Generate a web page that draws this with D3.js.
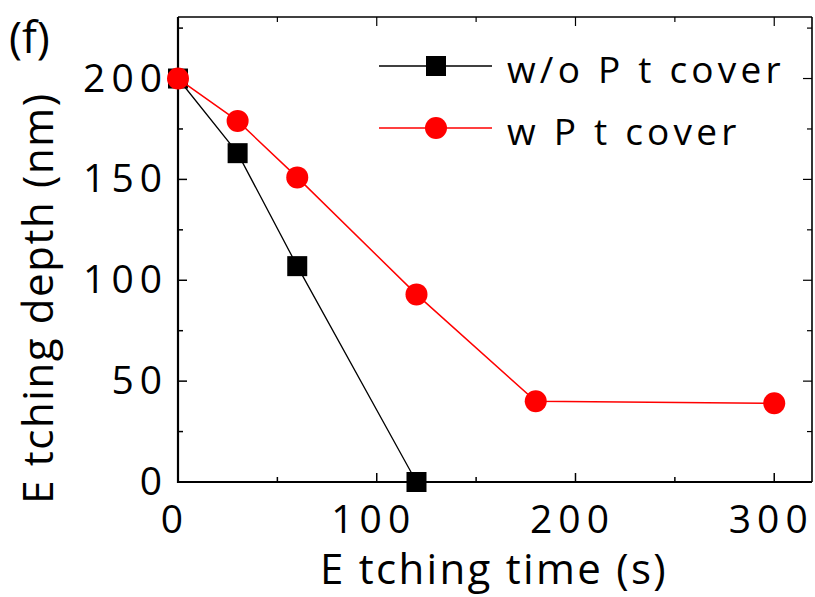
<!DOCTYPE html>
<html>
<head>
<meta charset="utf-8">
<script src="https://cdn.jsdelivr.net/npm/d3@7"></script>
<style>
  body { margin: 0; background: #fff; }
  text { font-family: "Open Sans", sans-serif; fill: #000; }
</style>
</head>
<body>
<div id="chart"></div>
<script>
// data
var series_names = ["w/o P t cover", "w P t cover"]
var times_wo = [0, 30, 60, 120]
var depth_wo = [200, 163, 107, 0]
var times_w = [0, 30, 60, 120, 180, 300]
var depth_w = [200, 179, 151, 93, 40, 39]
var x_ticks = [0, 100, 200, 300]
var y_ticks = [0, 50, 100, 150, 200]

var width = 815
var height = 597
var padding = { "left": 178, "right": 3, "top": 17, "bottom": 115 }

var svg = d3.select("#chart").append("svg")
    .attr("width", width)
    .attr("height", height)

var x_scale = d3.scaleLinear()
    .domain([0, 319])
    .range([padding.left, width - padding.right])
var y_scale = d3.scaleLinear()
    .domain([0, 230.5])
    .range([height - padding.bottom, padding.top])

var x0 = padding.left, x1 = width - padding.right
var y0 = height - padding.bottom, y1 = padding.top

// frame
svg.append("line").attr("x1", x0).attr("x2", x1).attr("y1", y0).attr("y2", y0)
    .attr("stroke", "#000").attr("stroke-width", 2.2)
svg.append("line").attr("x1", x0).attr("x2", x0).attr("y1", y0 + 1).attr("y2", y1)
    .attr("stroke", "#000").attr("stroke-width", 2.2)
svg.append("line").attr("x1", x0).attr("x2", x1).attr("y1", y1).attr("y2", y1)
    .attr("stroke", "#000").attr("stroke-width", 1.6)
svg.append("line").attr("x1", x1).attr("x2", x1).attr("y1", y0).attr("y2", y1)
    .attr("stroke", "#000").attr("stroke-width", 1.6)

// ticks (inside, mirrored)
var x_minor = d3.range(50, 319, 100)
var y_minor = d3.range(25, 231, 50)
function tick_x(vals, len) {
    svg.selectAll(null).data(vals).enter().append("line")
        .attr("x1", function (d) { return x_scale(d) }).attr("x2", function (d) { return x_scale(d) })
        .attr("y1", y0).attr("y2", y0 - len).attr("stroke", "#000").attr("stroke-width", 1.5)
    svg.selectAll(null).data(vals).enter().append("line")
        .attr("x1", function (d) { return x_scale(d) }).attr("x2", function (d) { return x_scale(d) })
        .attr("y1", y1).attr("y2", y1 + len).attr("stroke", "#000").attr("stroke-width", 1.2)
}
function tick_y(vals, len) {
    svg.selectAll(null).data(vals).enter().append("line")
        .attr("y1", function (d) { return y_scale(d) }).attr("y2", function (d) { return y_scale(d) })
        .attr("x1", x0).attr("x2", x0 + len).attr("stroke", "#000").attr("stroke-width", 1.5)
    svg.selectAll(null).data(vals).enter().append("line")
        .attr("y1", function (d) { return y_scale(d) }).attr("y2", function (d) { return y_scale(d) })
        .attr("x1", x1).attr("x2", x1 - len).attr("stroke", "#000").attr("stroke-width", 1.2)
}
tick_x(x_ticks.slice(1), 9)
tick_x(x_minor, 5)
tick_y(y_ticks.slice(1), 9)
tick_y(y_minor, 5)

// tick labels
svg.selectAll(".xlab").data(x_ticks).enter().append("text")
    .attr("x", function (d) { return x_scale(d) - 3 })
    .attr("y", y0 + 51)
    .attr("text-anchor", "middle")
    .attr("font-size", 39)
    .attr("letter-spacing", 6)
    .text(function (d) { return d })
svg.selectAll(".ylab").data(y_ticks).enter().append("text")
    .attr("x", x0 - 10)
    .attr("y", function (d) { return y_scale(d) + 13 })
    .attr("text-anchor", "end")
    .attr("font-size", 39)
    .attr("letter-spacing", 6)
    .text(function (d) { return d })

// axis titles
svg.append("text")
    .attr("x", 494).attr("y", 584)
    .attr("text-anchor", "middle")
    .attr("font-size", 42)
    .attr("letter-spacing", 2.3)
    .text("E tching time (s)")
svg.append("text")
    .attr("transform", "translate(53,298) rotate(-90)")
    .attr("text-anchor", "middle")
    .attr("font-size", 42)
    .attr("letter-spacing", 1.6)
    .text("E tching depth (nm)")
svg.append("text")
    .attr("x", 9).attr("y", 53)
    .attr("font-size", 44)
    .text("(f)")

// lines
var line = d3.line()
    .x(function (d) { return x_scale(d[0]) })
    .y(function (d) { return y_scale(d[1]) })
var wo = d3.zip(times_wo, depth_wo)
var w = d3.zip(times_w, depth_w)

svg.append("path").datum(wo).attr("d", line)
    .attr("fill", "none").attr("stroke", "#000").attr("stroke-width", 1.3)
svg.selectAll(".sq").data(wo).enter().append("rect")
    .attr("x", function (d) { return x_scale(d[0]) - 10 })
    .attr("y", function (d) { return y_scale(d[1]) - 10 })
    .attr("width", 20).attr("height", 20)
    .attr("fill", "#000")

svg.append("path").datum(w).attr("d", line)
    .attr("fill", "none").attr("stroke", "#ff0000").attr("stroke-width", 1.5)
svg.selectAll(".ci").data(w).enter().append("circle")
    .attr("cx", function (d) { return x_scale(d[0]) })
    .attr("cy", function (d) { return y_scale(d[1]) })
    .attr("r", 11)
    .attr("fill", "#ff0000")

// legend
var legend = svg.append("g")
var leg_y = [66, 128]
legend.append("line").attr("x1", 379).attr("x2", 492).attr("y1", leg_y[0]).attr("y2", leg_y[0])
    .attr("stroke", "#000").attr("stroke-width", 1.3)
legend.append("rect").attr("x", 426).attr("y", leg_y[0] - 10).attr("width", 20).attr("height", 20)
    .attr("fill", "#000")
legend.append("line").attr("x1", 379).attr("x2", 492).attr("y1", leg_y[1]).attr("y2", leg_y[1])
    .attr("stroke", "#ff0000").attr("stroke-width", 1.5)
legend.append("circle").attr("cx", 436).attr("cy", leg_y[1]).attr("r", 11)
    .attr("fill", "#ff0000")
legend.selectAll(".lt").data(series_names).enter().append("text")
    .attr("x", 507)
    .attr("y", function (d, i) { return leg_y[i] + 17 })
    .attr("font-size", 37)
    .attr("letter-spacing", 4.2)
    .text(function (d) { return d })
</script>
</body>
</html>
